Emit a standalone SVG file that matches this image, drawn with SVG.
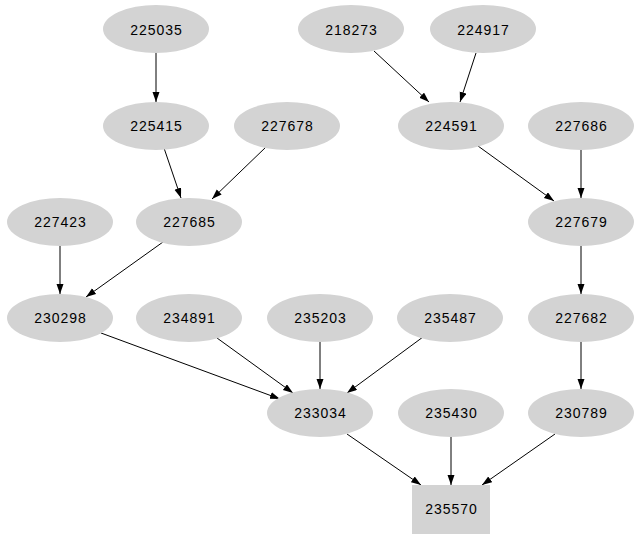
<svg xmlns="http://www.w3.org/2000/svg" width="640" height="539" viewBox="0 0 640 539">
<defs>
<style>
.n ellipse, .n rect { fill: #d3d3d3; stroke: none; }
.n text { font-family: "Liberation Sans", Arial, sans-serif; font-size: 14px; letter-spacing: 1px; fill: #000; text-anchor: middle; }
.e line { stroke: #000; stroke-width: 1; marker-end: url(#ah); }
</style>
<marker id="ah" markerUnits="userSpaceOnUse" markerWidth="10" markerHeight="8" refX="10" refY="3.5" orient="auto">
<path d="M0,0 L10,3.5 L0,7 z" fill="#000"/>
</marker>
</defs>
<rect width="640" height="539" fill="#fff"/>
<g id="edges" class="e">
<line x1="156" y1="53" x2="156" y2="102"/>
<line x1="374" y1="51" x2="429" y2="102"/>
<line x1="476" y1="53" x2="460" y2="102"/>
<line x1="164" y1="148" x2="181" y2="198"/>
<line x1="266" y1="147" x2="212" y2="199"/>
<line x1="478" y1="146" x2="554" y2="201"/>
<line x1="581" y1="150" x2="581" y2="198"/>
<line x1="60" y1="246" x2="60" y2="294"/>
<line x1="163" y1="242" x2="86" y2="297"/>
<line x1="581" y1="246" x2="581" y2="294"/>
<line x1="101" y1="333" x2="280" y2="399"/>
<line x1="217" y1="338" x2="293" y2="393"/>
<line x1="320" y1="342" x2="320" y2="389"/>
<line x1="423" y1="337" x2="347" y2="393"/>
<line x1="581" y1="342" x2="581" y2="389"/>
<line x1="347" y1="434" x2="421" y2="485"/>
<line x1="451" y1="437" x2="451" y2="485"/>
<line x1="555" y1="434" x2="482" y2="485"/>
</g>
<g id="n225035" class="n"><ellipse cx="156" cy="29" rx="53" ry="24"/><text x="156.5" y="35">225035</text></g>
<g id="n218273" class="n"><ellipse cx="351" cy="29" rx="53" ry="24"/><text x="351.5" y="35">218273</text></g>
<g id="n224917" class="n"><ellipse cx="483" cy="29" rx="53" ry="24"/><text x="483.5" y="35">224917</text></g>
<g id="n225415" class="n"><ellipse cx="156" cy="126" rx="53" ry="24"/><text x="156.5" y="131">225415</text></g>
<g id="n227678" class="n"><ellipse cx="287" cy="126" rx="53" ry="24"/><text x="287.5" y="131">227678</text></g>
<g id="n224591" class="n"><ellipse cx="451" cy="126" rx="53" ry="24"/><text x="451.5" y="131">224591</text></g>
<g id="n227686" class="n"><ellipse cx="581" cy="126" rx="53" ry="24"/><text x="581.5" y="131">227686</text></g>
<g id="n227423" class="n"><ellipse cx="60" cy="222" rx="53" ry="24"/><text x="60.5" y="227">227423</text></g>
<g id="n227685" class="n"><ellipse cx="189" cy="222" rx="53" ry="24"/><text x="189.5" y="227">227685</text></g>
<g id="n227679" class="n"><ellipse cx="581" cy="222" rx="53" ry="24"/><text x="581.5" y="227">227679</text></g>
<g id="n230298" class="n"><ellipse cx="60" cy="318" rx="53" ry="24"/><text x="60.5" y="323">230298</text></g>
<g id="n234891" class="n"><ellipse cx="189" cy="318" rx="53" ry="24"/><text x="189.5" y="323">234891</text></g>
<g id="n235203" class="n"><ellipse cx="320" cy="318" rx="53" ry="24"/><text x="320.5" y="323">235203</text></g>
<g id="n235487" class="n"><ellipse cx="450" cy="318" rx="53" ry="24"/><text x="450.5" y="323">235487</text></g>
<g id="n227682" class="n"><ellipse cx="581" cy="318" rx="53" ry="24"/><text x="581.5" y="323">227682</text></g>
<g id="n233034" class="n"><ellipse cx="320" cy="413" rx="53" ry="24"/><text x="320.5" y="418">233034</text></g>
<g id="n235430" class="n"><ellipse cx="451" cy="413" rx="53" ry="24"/><text x="451.5" y="418">235430</text></g>
<g id="n230789" class="n"><ellipse cx="581" cy="413" rx="53" ry="24"/><text x="581.5" y="418">230789</text></g>
<g id="n235570" class="n"><rect x="412" y="485" width="78" height="49"/><text x="451.5" y="514">235570</text></g>
</svg>
